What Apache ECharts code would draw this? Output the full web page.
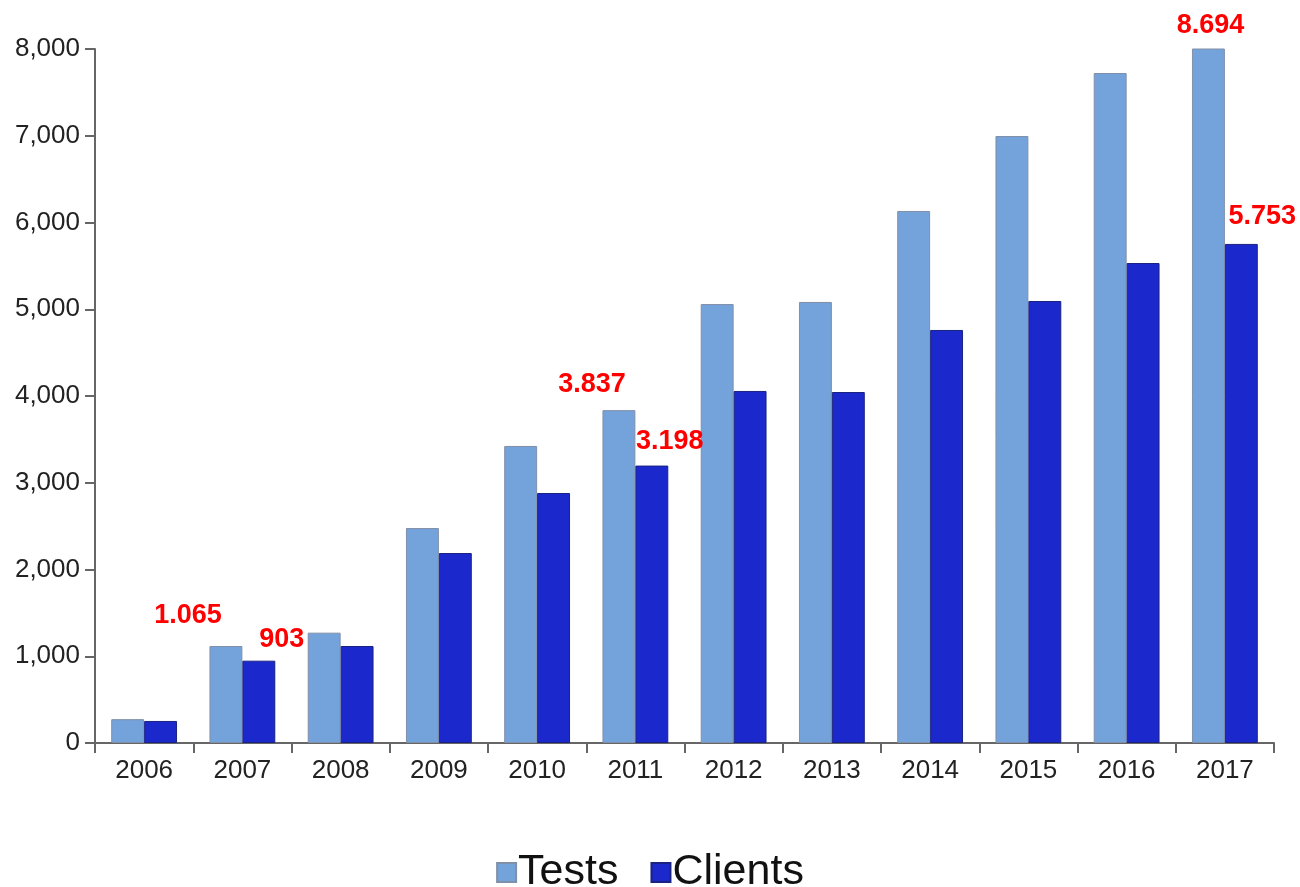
<!DOCTYPE html>
<html>
  <head>
    <meta charset="utf-8" />
    <title>Tests and Clients 2006-2017</title>
    <script src="https://cdn.jsdelivr.net/npm/echarts@6/dist/echarts.min.js"></script>
    <style>
      html, body { margin: 0; padding: 0; background: #fff; }
    </style>
  </head>
  <body>
    <div id="main" style="width: 1300px; height: 887px"></div>
    <script type="text/javascript">
      var years = ['2006', '2007', '2008', '2009', '2010', '2011', '2012', '2013', '2014', '2015', '2016', '2017'];
      var tests = [275, 1118, 1272, 2478, 3424, 3837, 5060, 5084, 6133, 6997, 7723, 8694];
      var clients = [254, 949, 1118, 2190, 2882, 3198, 4058, 4046, 4761, 5095, 5533, 5753];

      // red callouts: [year index, text, offset]
      var testLabels = [
        [1, '1.065', [-38, -12]],
        [5, '3.837', [-27, -7]],
        [11, '8.694', [2, -4]]
      ];
      var clientLabels = [
        [1, '903', [23, -3]],
        [5, '3.198', [18, -6]],
        [11, '5.753', [21, -9]]
      ];

      function withLabels(values, labels) {
        return values.map(function (v, i) {
          var item = { value: v };
          labels.forEach(function (l) {
            if (l[0] === i) {
              item.label = {
                show: true,
                position: 'top',
                distance: 5,
                offset: l[2],
                formatter: l[1],
                color: '#ff0000',
                fontSize: 27,
                fontWeight: 'bold',
                fontFamily: '"Liberation Sans", Arial, sans-serif'
              };
            }
          });
          return item;
        });
      }

      var myChart = echarts.init(document.getElementById('main'));

      var option = {
        animation: false,
        textStyle: { fontFamily: '"Liberation Sans", Arial, sans-serif' },
        grid: { left: 95, right: 26, top: 49, bottom: 144 },
        legend: {
          top: 846,
          left: 'center',
          icon: 'rect',
          itemWidth: 19,
          itemHeight: 19,
          itemGap: 32,
          textStyle: { fontSize: 43, color: '#111', padding: [0, 0, 0, -3] },
          data: ['Tests', 'Clients']
        },
        xAxis: {
          type: 'category',
          data: years,
          axisLine: { lineStyle: { color: '#666', width: 2 } },
          axisTick: { show: true, length: 10, lineStyle: { color: '#666', width: 2 } },
          axisLabel: { fontSize: 26, color: '#222', margin: 15 }
        },
        yAxis: {
          type: 'value',
          min: 0,
          max: 8000,
          interval: 1000,
          splitLine: { show: false },
          axisLine: { show: true, lineStyle: { color: '#666', width: 2 } },
          axisTick: { show: true, length: 10, lineStyle: { color: '#666', width: 2 } },
          axisLabel: {
            fontSize: 26,
            color: '#222',
            margin: 15,
            formatter: function (v) { return v.toLocaleString('en-US'); }
          }
        },
        series: [
          {
            name: 'Tests',
            type: 'bar',
            barGap: 0,
            barCategoryGap: '33%',
            itemStyle: { color: '#74a2da', borderColor: '#8090a8', borderWidth: 1 },
            data: withLabels(tests, testLabels)
          },
          {
            name: 'Clients',
            type: 'bar',
            itemStyle: { color: '#1b28cc', borderColor: '#1a2380', borderWidth: 1 },
            data: withLabels(clients, clientLabels)
          }
        ]
      };

      myChart.setOption(option);
    </script>
  </body>
</html>
